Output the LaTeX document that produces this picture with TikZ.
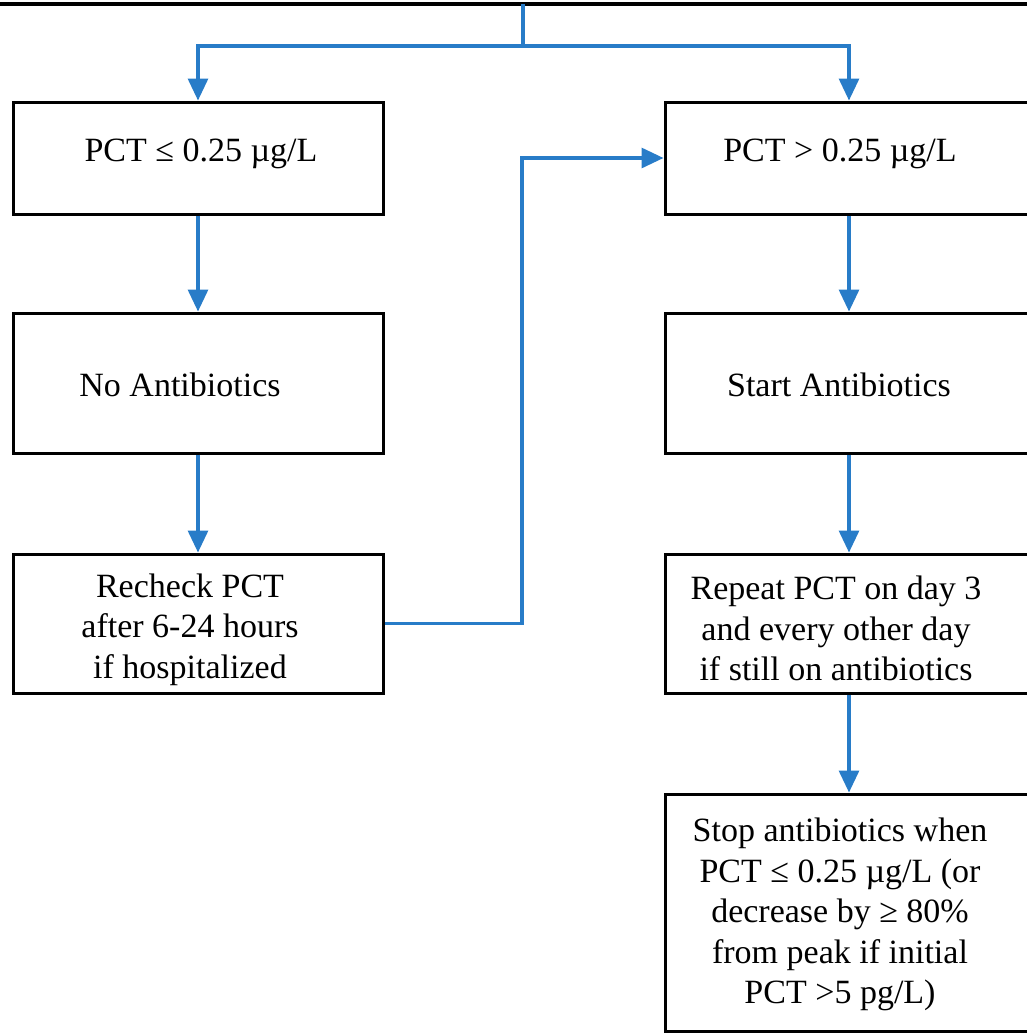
\documentclass[tikz,border=0pt]{standalone}
\usepackage{fontspec}
\setmainfont{Liberation Serif}
\usetikzlibrary{arrows.meta}
\definecolor{flowblue}{RGB}{40,124,200}
\tikzset{
  box/.style={draw=black, line width=3pt, rectangle, inner sep=0pt,
    minimum width=370pt},
  boxtext/.style={align=center, inner sep=0pt,
    font=\fontsize{34}{40.5}\selectfont},
  link/.style={draw=flowblue, line width=3.2pt},
  flow/.style={link, -{Triangle[length=22pt,width=20pt]}},
}
\begin{document}
\begin{tikzpicture}[x=1pt, y=-1pt]
\useasboundingbox (0,0) rectangle (1027,1034);
\clip (0,0) rectangle (1027,1034);

% lower edge of the box above
\draw[line width=3.5pt] (-10,4) -- (1040,4);
\coordinate (top) at (523,4);
\coordinate (split) at (523,46);

% left branch
\node[box, minimum height=112pt,
  label={[boxtext, xshift=3pt, yshift=4pt]center:PCT ≤ 0.25 µg/L}]
  (low) at (198,158) {};
\node[box, minimum height=140pt,
  label={[boxtext, xshift=-18pt, yshift=-2pt]center:No Antibiotics}]
  (noab) at (198,383) {};
\node[box, minimum height=139pt,
  label={[boxtext, xshift=-8pt, yshift=-6pt]center:{Recheck PCT\\after 6-24 hours\\if hospitalized}}]
  (recheck) at (198,623.5) {};

% right branch
\node[box, minimum width=368pt, minimum height=112pt,
  label={[boxtext, xshift=-9pt, yshift=4pt]center:PCT > 0.25 µg/L}]
  (high) at (849,158) {};
\node[box, minimum width=368pt, minimum height=140pt,
  label={[boxtext, xshift=-10pt, yshift=-2pt]center:Start Antibiotics}]
  (start) at (849,383) {};
\node[box, minimum width=368pt, minimum height=139pt,
  label={[boxtext, xshift=-13pt, yshift=-5pt]center:{Repeat PCT on day 3\\and every other day\\if still on antibiotics}}]
  (repeat) at (849,623.5) {};
\node[box, minimum width=368pt, minimum height=237pt,
  label={[boxtext, xshift=-9pt, yshift=-2pt]center:{Stop antibiotics when\\PCT ≤ 0.25 µg/L (or\\decrease by ≥ 80\%\\from peak if initial\\PCT >5 pg/L)}}]
  (stop) at (849,912.5) {};

% connectors
\draw[link] (top) -- (split);
\draw[flow] (split) -| (low.north);
\draw[flow] (split) -| (high.north);
\draw[flow] (low) -- (noab);
\draw[flow] (noab) -- (recheck);
\draw[flow] (high) -- (start);
\draw[flow] (start) -- (repeat);
\draw[flow] (repeat) -- (stop);
\coordinate (jog) at (522,400);
\draw[flow] (recheck.east) -| (jog) |- (high.west);
\end{tikzpicture}
\end{document}
